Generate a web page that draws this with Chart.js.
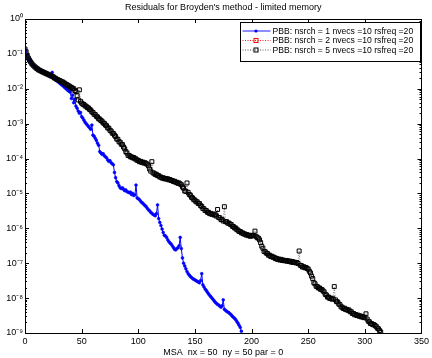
<!DOCTYPE html>
<html><head><meta charset="utf-8">
<script src="https://cdn.jsdelivr.net/npm/chart.js@4"></script>
<style>html,body{margin:0;padding:0;background:#fff;overflow:hidden}#wrap{width:432px;height:358px}</style>
</head><body><div id="wrap"><canvas id="c" width="432" height="358"></canvas></div>
<script>
const titleText = "Residuals for Broyden's method - limited memory";
const xAxisTitle = "MSA  nx = 50  ny = 50 par = 0";
const xTicks = [0, 50, 100, 150, 200, 250, 300, 350];
const yDecades = [-9, -8, -7, -6, -5, -4, -3, -2, -1, 0];
const seriesLabels = [
  "PBB: nsrch = 1 nvecs =10 rsfreq =20",
  "PBB: nsrch = 2 nvecs =10 rsfreq =20",
  "PBB: nsrch = 5 nvecs =10 rsfreq =20"
];
// nsrch = 1 : log10(residual) at iterations 0, 1, 2, ...
const logRes1 = [
  -0.86,-0.94,-1.04,-1.12,-1.18,-1.23,-1.28,-1.32,-1.35,-1.38,
  -1.40,-1.43,-1.45,-1.47,-1.48,-1.50,-1.52,-1.53,-1.55,-1.57,
  -1.58,-1.60,-1.62,-1.63,-1.53,-1.66,-1.70,-1.73,-1.77,-1.79,
  -1.82,-1.85,-1.88,-1.90,-1.93,-1.96,-1.99,-2.02,-2.05,-2.07,
  -2.10,-2.28,-2.18,-2.40,-2.30,-2.50,-2.56,-2.64,-2.70,-2.68,
  -2.80,-2.84,-2.90,-2.96,-3.00,-3.04,-3.08,-3.12,-3.16,-3.04,
  -3.33,-3.36,-3.42,-3.48,-3.56,-3.62,-3.80,-3.84,-3.88,-3.86,
  -3.92,-3.95,-3.98,-4.04,-4.08,-4.06,-4.12,-4.15,-4.18,-4.40,
  -4.55,-4.66,-4.70,-4.78,-4.84,-4.86,-4.84,-4.88,-4.92,-4.90,
  -4.95,-4.96,-4.98,-4.96,-5.03,-5.00,-5.06,-5.04,-4.76,-5.13,
  -5.15,-5.18,-5.22,-5.26,-5.28,-5.32,-5.35,-5.38,-5.43,-5.47,
  -5.50,-5.54,-5.57,-5.60,-5.62,-5.64,-5.58,-5.33,-5.72,-5.83,
  -5.92,-6.02,-6.12,-6.20,-6.22,-6.26,-6.33,-6.38,-6.42,-6.45,
  -6.50,-6.55,-6.60,-6.62,-6.58,-6.56,-6.50,-6.26,-6.58,-6.85,
  -7.00,-7.08,-7.16,-7.24,-7.30,-7.34,-7.38,-7.41,-7.44,-7.46,
  -7.48,-7.50,-7.52,-7.54,-7.56,-7.50,-7.30,-7.62,-7.68,-7.74,
  -7.78,-7.83,-7.88,-7.92,-7.96,-8.00,-8.04,-8.08,-8.12,-8.15,
  -8.18,-8.20,-8.23,-8.26,-8.22,-8.05,-8.32,-8.35,-8.38,-8.40,
  -8.42,-8.45,-8.48,-8.52,-8.55,-8.58,-8.62,-8.67,-8.72,-8.78,
  -8.84,-8.95
];
// nsrch = 5 : log10(residual) at iterations 0, 1, 2, ...
const logRes5 = [
  -0.86,-0.94,-1.04,-1.12,-1.18,-1.23,-1.28,-1.32,-1.35,-1.38,
  -1.41,-1.43,-1.46,-1.47,-1.49,-1.51,-1.52,-1.54,-1.55,-1.57,
  -1.58,-1.60,-1.61,-1.63,-1.64,-1.66,-1.69,-1.70,-1.73,-1.74,
  -1.76,-1.77,-1.80,-1.80,-1.83,-1.84,-1.87,-1.88,-1.91,-1.92,
  -1.95,-1.96,-1.99,-2.00,-2.05,-2.08,-2.20,-2.32,-2.03,-2.36,
  -2.41,-2.44,-2.45,-2.49,-2.50,-2.54,-2.55,-2.59,-2.61,-2.66,
  -2.68,-2.73,-2.74,-2.79,-2.81,-2.86,-2.87,-2.91,-2.93,-2.98,
  -2.99,-3.04,-3.06,-3.12,-3.13,-3.19,-3.21,-3.27,-3.28,-3.33,
  -3.37,-3.44,-3.45,-3.52,-3.53,-3.59,-3.60,-3.67,-3.72,-3.80,
  -3.84,-3.91,-3.91,-3.95,-3.95,-3.98,-3.97,-4.01,-4.01,-4.05,
  -4.05,-4.09,-4.08,-4.11,-4.10,-4.13,-4.12,-4.15,-4.16,-4.21,
  -4.30,-4.36,-4.09,-4.41,-4.42,-4.46,-4.45,-4.49,-4.49,-4.53,
  -4.53,-4.56,-4.55,-4.58,-4.57,-4.59,-4.58,-4.61,-4.60,-4.63,
  -4.63,-4.66,-4.65,-4.68,-4.68,-4.71,-4.70,-4.73,-4.75,-4.81,
  -4.85,-4.93,-4.94,-4.70,-4.97,-5.03,-5.05,-5.11,-5.13,-5.18,
  -5.19,-5.24,-5.24,-5.29,-5.29,-5.35,-5.37,-5.43,-5.44,-5.49,
  -5.49,-5.54,-5.54,-5.58,-5.57,-5.60,-5.59,-5.62,-5.61,-5.65,
  -5.46,-5.69,-5.70,-5.75,-5.75,-5.79,-5.38,-5.81,-5.81,-5.85,
  -5.85,-5.88,-5.89,-5.94,-5.95,-5.99,-5.99,-6.04,-6.05,-6.09,
  -6.09,-6.13,-6.13,-6.16,-6.16,-6.19,-6.18,-6.21,-6.20,-6.23,
  -6.20,-6.21,-6.21,-6.08,-6.23,-6.27,-6.28,-6.33,-6.41,-6.51,
  -6.57,-6.66,-6.67,-6.71,-6.72,-6.77,-6.77,-6.81,-6.80,-6.83,
  -6.83,-6.87,-6.86,-6.89,-6.88,-6.91,-6.89,-6.92,-6.91,-6.93,
  -6.92,-6.94,-6.93,-6.95,-6.94,-6.97,-6.95,-6.98,-6.97,-6.99,
  -6.98,-7.01,-6.65,-7.06,-7.07,-7.11,-7.10,-7.13,-7.12,-7.15,
  -7.17,-7.23,-7.28,-7.37,-7.44,-7.56,-7.59,-7.66,-7.67,-7.71,
  -7.71,-7.75,-7.75,-7.79,-7.82,-7.89,-7.91,-7.97,-7.97,-8.01,
  -8.00,-8.03,-8.02,-7.67,-8.05,-8.10,-8.11,-8.17,-8.19,-8.25,
  -8.26,-8.30,-8.29,-8.33,-8.32,-8.35,-8.34,-8.39,-8.39,-8.44,
  -8.44,-8.48,-8.47,-8.50,-8.49,-8.52,-8.51,-8.54,-8.53,-8.56,
  -8.55,-8.45,-8.60,-8.66,-8.68,-8.73,-8.73,-8.76,-8.76,-8.79,
  -8.81,-8.86,-8.88,-8.93,-8.97
];
// nsrch = 2 : coincides with nsrch = 5 in the figure (lies hidden beneath it)
const logRes2 = logRes5;

function seqPoints(ls) { return ls.map((v, i) => ({ x: i, y: Math.pow(10, v) })); }

Chart.defaults.font.family = "'Liberation Sans', Arial, Helvetica, sans-serif";
Chart.defaults.font.size = 9;
Chart.defaults.color = '#000';

const sup = { '-': '\u207B', '0': '\u2070', '1': '\u00B9', '2': '\u00B2', '3': '\u00B3', '4': '\u2074', '5': '\u2075', '6': '\u2076', '7': '\u2077', '8': '\u2078', '9': '\u2079' };
function decadeLabel(e) { return '10' + String(e).split('').map(c => sup[c]).join(''); }

const framePlugin = {
  id: 'frame',
  afterDatasetsDraw(chart) {
    const ctx = chart.ctx, ca = chart.chartArea;
    const xs = chart.scales.x, ys = chart.scales.y;
    ctx.save();
    ctx.strokeStyle = '#000';
    ctx.lineWidth = 1;
    ctx.beginPath();
    xs.ticks.forEach(t => {
      const px = Math.round(xs.getPixelForValue(t.value)) + 0.5;
      if (px <= ca.left + 1 || px >= ca.right - 1) return;
      ctx.moveTo(px, ca.bottom); ctx.lineTo(px, ca.bottom - 4);
      ctx.moveTo(px, ca.top); ctx.lineTo(px, ca.top + 4);
    });
    ys.ticks.forEach(t => {
      const py = Math.round(ys.getPixelForValue(t.value)) + 0.5;
      const len = t.major ? 4 : 2;
      ctx.moveTo(ca.left, py); ctx.lineTo(ca.left + len, py);
      ctx.moveTo(ca.right, py); ctx.lineTo(ca.right - len, py);
    });
    ctx.stroke();
    ctx.strokeRect(Math.round(ca.left) + 0.5, Math.round(ca.top) + 0.5, Math.round(ca.right - ca.left), Math.round(ca.bottom - ca.top));
    ctx.restore();
  }
};

const legendPlugin = {
  id: 'boxLegend',
  afterDraw(chart) {
    const ctx = chart.ctx, ca = chart.chartArea;
    const w = 180, h = 39;
    const x0 = Math.round(ca.right) - w - 1 + 0.5, y0 = Math.round(ca.top) + 3 + 0.5;
    ctx.save();
    ctx.fillStyle = '#fff';
    ctx.fillRect(x0, y0, w, h);
    ctx.strokeStyle = '#000';
    ctx.lineWidth = 1;
    ctx.strokeRect(x0, y0, w, h);
    const ds = chart.data.datasets;
    const rowY = [8.5, 18, 27.5];
    [0, 1, 2].forEach(i => {
      const d = ds[i];
      const y = y0 + rowY[i];
      ctx.setLineDash(d.borderDash || []);
      ctx.strokeStyle = d.legendLineColor || d.borderColor;
      ctx.lineWidth = 0.9;
      ctx.beginPath(); ctx.moveTo(x0 + 2, y); ctx.lineTo(x0 + 30, y); ctx.stroke();
      ctx.setLineDash([]);
      const mx = x0 + 15.5;
      if (d.pointStyle === 'rect') {
        ctx.strokeStyle = d.legendMarkerColor || d.pointBorderColor; ctx.lineWidth = 1;
        ctx.strokeRect(mx - 2, y - 2, 4, 4);
      } else {
        ctx.fillStyle = d.pointBackgroundColor;
        ctx.beginPath(); ctx.arc(mx, y, 1.6, 0, Math.PI * 2); ctx.fill();
      }
      ctx.fillStyle = '#000';
      ctx.font = "8.6px 'Liberation Sans', Arial, sans-serif";
      ctx.textBaseline = 'middle';
      ctx.textAlign = 'left';
      ctx.fillText(seriesLabels[i], x0 + 32, y + 0.5);
    });
    ctx.restore();
  }
};

new Chart(document.getElementById('c'), {
  type: 'line',
  data: {
    datasets: [
      { label: seriesLabels[0], data: seqPoints(logRes1), borderColor: '#0000ff', borderWidth: 1,
        pointStyle: 'circle', pointRadius: 1.4, pointBackgroundColor: '#0000ff', pointBorderColor: '#0000ff', pointBorderWidth: 0.6, order: 1 },
      { label: seriesLabels[1], data: seqPoints(logRes2), borderColor: '#ff0000', legendLineColor: '#ff0000', borderWidth: 0.1, borderDash: [1, 1.5],
        pointStyle: 'rect', pointRadius: 2.5, pointBackgroundColor: 'rgba(0,0,0,0)', pointBorderColor: '#ff0000', legendMarkerColor: '#ff0000', pointBorderWidth: 0.1, order: 2 },
      { label: seriesLabels[2], data: seqPoints(logRes5), borderColor: '#777777', legendLineColor: '#444444', borderWidth: 0.9, borderDash: [1, 1.5],
        pointStyle: 'rect', pointRadius: 2.8, pointBackgroundColor: 'rgba(0,0,0,0)', pointBorderColor: '#000000', pointBorderWidth: 1, order: 0 }
    ]
  },
  options: {
    responsive: false,
    animation: false,
    events: [],
    layout: { padding: { left: 0, right: 10, top: 0, bottom: 0 } },
    plugins: {
      legend: { display: false },
      tooltip: { enabled: false },
      title: { display: true, text: titleText, fullSize: false, color: '#000',
        font: { size: 9, weight: 'normal' }, padding: { top: 2.5, bottom: 5.7 } }
    },
    scales: {
      x: {
        type: 'linear', min: 0, max: 350,
        afterBuildTicks: s => { s.ticks = xTicks.map(v => ({ value: v })); },
        afterFit: s => { s.height = 25; },
        ticks: { padding: 3, color: '#000', font: { size: 9 }, autoSkip: false, maxRotation: 0 },
        grid: { display: false, drawTicks: false },
        border: { display: false },
        title: { display: true, text: xAxisTitle, color: '#000', font: { size: 9 }, padding: { top: 0, bottom: 0 } }
      },
      y: {
        type: 'logarithmic', min: 1e-9, max: 1,
        afterBuildTicks: s => {
          const t = [];
          yDecades.forEach(e => {
            for (let m = 1; m <= 9; m++) {
              if (e === 0 && m > 1) break;
              t.push({ value: m * Math.pow(10, e), major: m === 1 });
            }
          });
          s.ticks = t;
        },
        afterFit: s => { s.width = 25; },
        ticks: {
          autoSkip: false, padding: 2, color: '#000', font: { size: 9 },
          callback: function (v) {
            const e = Math.round(Math.log10(v));
            return Math.abs(v - Math.pow(10, e)) < Math.pow(10, e) * 1e-6 ? decadeLabel(e) : '';
          }
        },
        grid: { display: false, drawTicks: false },
        border: { display: false }
      }
    }
  },
  plugins: [framePlugin, legendPlugin]
});
</script>
</body></html>
